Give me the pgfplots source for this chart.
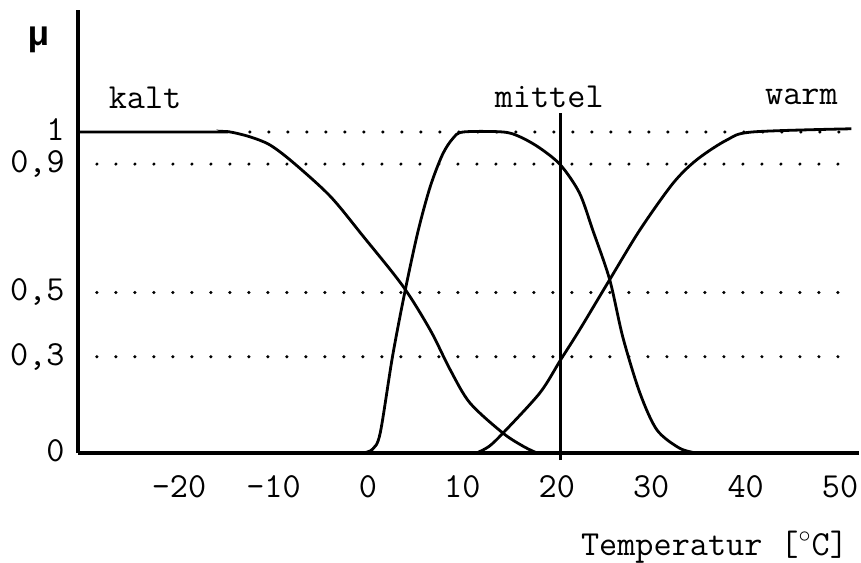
\documentclass[border=0pt]{standalone}
\usepackage{pgfplots}
\pgfplotsset{compat=1.18}
\usepackage{fontspec}
\newfontfamily\mufont{Liberation Mono}
\renewcommand*{\familydefault}{\ttdefault}
\begin{document}
\normalfont\fontsize{17.6}{20}\selectfont
\begin{tikzpicture}
\begin{axis}[
    scale only axis,
    width=390.5pt, height=221.5pt,
    xmin=-30.7, xmax=52, ymin=0, ymax=1.38,
    axis x line=bottom, axis y line=left,
    axis line style={-, line width=1.6pt},
    major tick length=0pt,
    xtick={-20,-10,0,10,20,30,40,50},
    xticklabels={-20,-10,0,10,20,30,40,50},
    xticklabel style={anchor=center, yshift=-17pt},
    ytick={0,0.3,0.5,0.9,1},
    yticklabels={0,{0,3},{0,5},{0,9},1},
    yticklabel style={anchor=east, inner sep=0pt, xshift=-6.5pt, text height=0.6em, text depth=0.12em},
    clip=false,
]
% dotted guide lines
\addplot[line width=1.7pt, line cap=round, dash pattern=on 0pt off 9.5pt] coordinates {(-28.7,0.9) (51.2,0.9)};
\addplot[line width=1.7pt, line cap=round, dash pattern=on 0pt off 9.5pt] coordinates {(-28.7,0.5) (51.2,0.5)};
\addplot[line width=1.7pt, line cap=round, dash pattern=on 0pt off 9.5pt] coordinates {(-28.7,0.3) (51.2,0.3)};
\addplot[line width=1.7pt, line cap=round, dash pattern=on 0pt off 9.5pt] coordinates {(-12.5,1) (51.2,1)};
% kalt
\addplot[line width=1.4pt, smooth, tension=0.5] coordinates {
(-30.7,1) (-16,1) (-14.6,1) (-12.5,0.985) (-10.4,0.96) (-8.0,0.907) (-4.0,0.80)
(-0.5,0.675) (3.7,0.52) (6.6,0.383) (8.7,0.26) (10.8,0.156) (14.3,0.062) (16.5,0.02) (17.9,0)};
% mittel
\addplot[line width=1.4pt, smooth, tension=0.5] coordinates {
(-0.5,0) (0.5,0.012) (1.3,0.062) (2.6,0.30) (3.9,0.5) (5.3,0.69) (6.6,0.83)
(7.9,0.93) (9,0.98) (10.1,1) (14.3,1) (16.1,0.985) (18.2,0.95) (20.4,0.897) (22.4,0.81)
(23.8,0.695) (25.6,0.54) (27.0,0.36) (28.8,0.187) (30.6,0.072) (33.0,0.015) (34.8,0)};
% warm
\addplot[line width=1.4pt, smooth, tension=0.5] coordinates {
(11.5,0) (12.8,0.02) (14.3,0.062) (18.2,0.187) (20.4,0.29) (22.4,0.383)
(25.6,0.54) (28.8,0.695) (32.3,0.84) (34.8,0.913) (38,0.975) (40.7,1.0) (51.2,1.01)};
% current temperature
\addplot[line width=1.6pt] coordinates {(20.4,-0.022) (20.4,1.06)};
\node at (axis cs:-23.6,1.106) {kalt};
\node at (axis cs:19.2,1.11) {mittel};
\node at (axis cs:45.9,1.11) {warm};
\node at (axis cs:-34.9,1.287) {\mufont\bfseries μ};
\node at (axis cs:36.7,-0.293) {Temperatur [$^\circ$C]};
\end{axis}
\pgfresetboundingbox
\path (-39pt,-54.5pt) rectangle (391.5pt,226.5pt);
\end{tikzpicture}
\end{document}
